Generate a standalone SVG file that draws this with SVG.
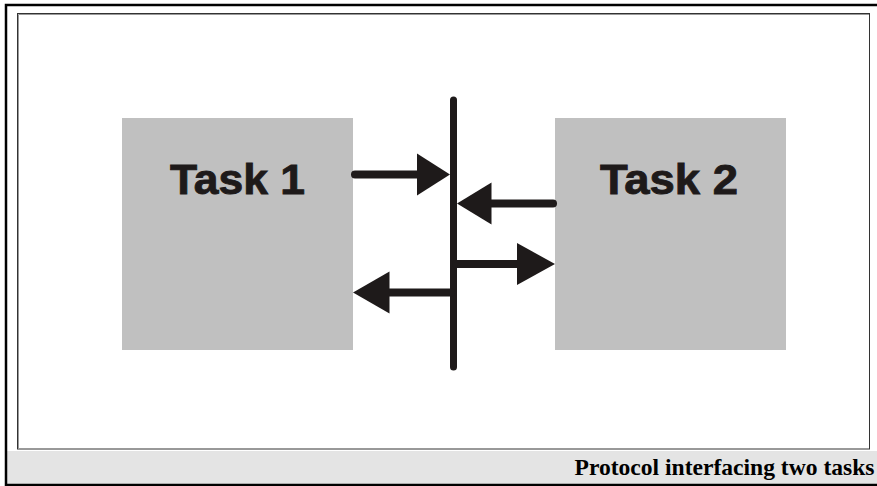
<svg xmlns="http://www.w3.org/2000/svg" width="877" height="486" viewBox="0 0 877 486">
  <style>
    .box { fill: #c0c0c0; }
    .label { font-family: "Liberation Sans", Arial, sans-serif; font-weight: bold; font-size: 43px; fill: #1e1a1a; stroke: #1e1a1a; stroke-width: 0.9; }
    .line { stroke: #1e1a1a; stroke-linecap: round; fill: none; }
    .head { fill: #1e1a1a; }
    .caption { font-family: "Liberation Serif", "Times New Roman", serif; font-weight: bold; font-size: 24px; fill: #000; }
  </style>
  <!-- frame -->
  <rect x="0" y="0" width="877" height="486" fill="#ffffff"/>
  <rect x="7" y="451" width="870" height="33" fill="#e4e4e4"/>
  <path d="M6 486 V5 H877" fill="none" stroke="#000" stroke-width="2.5"/>
  <path d="M6 485 H877" fill="none" stroke="#000" stroke-width="2.5"/>
  <rect x="17.5" y="13.5" width="852" height="435.5" fill="none" stroke="#333" stroke-width="1"/>
  <path d="M18.5 448 V14.5 H869" fill="none" stroke="#999" stroke-width="1"/>

  <g id="task1">
    <rect class="box" x="122" y="118" width="231" height="232"/>
    <text class="label" x="170" y="194" textLength="135" lengthAdjust="spacingAndGlyphs">Task 1</text>
  </g>
  <g id="task2">
    <rect class="box" x="555" y="118" width="231" height="232"/>
    <text class="label" x="600" y="194" textLength="138" lengthAdjust="spacingAndGlyphs">Task 2</text>
  </g>
  <g id="protocol">
    <line class="line" x1="453.5" y1="100" x2="453.5" y2="367" stroke-width="7"/>
  </g>
  <g id="connectors">
    <line class="line" x1="355" y1="174.5" x2="420" y2="174.5" stroke-width="8"/>
    <polygon class="head" points="417,153.5 450,174.5 417,195.5"/>
    <line class="line" x1="488" y1="203.5" x2="553" y2="203.5" stroke-width="8"/>
    <polygon class="head" points="491.5,182.5 457,203.5 491.5,224.5"/>
    <line class="line" x1="456" y1="264" x2="520" y2="264" stroke-width="8" stroke-linecap="butt"/>
    <polygon class="head" points="517,243 555,264 517,285"/>
    <line class="line" x1="385" y1="292.5" x2="451" y2="292.5" stroke-width="8" stroke-linecap="butt"/>
    <polygon class="head" points="389.5,271.5 353,292.5 389.5,313.5"/>
  </g>
  <text class="caption" x="874.5" y="475" text-anchor="end" textLength="300" lengthAdjust="spacingAndGlyphs">Protocol interfacing two tasks</text>
</svg>
